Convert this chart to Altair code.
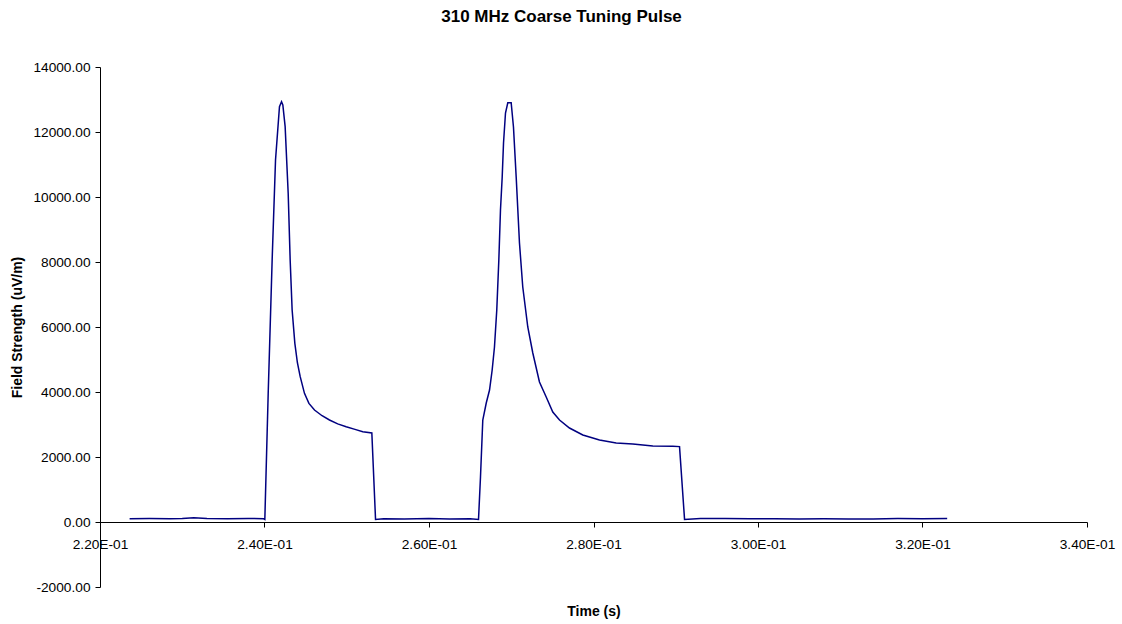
import altair as alt
import pandas as pd

# Time (s) values
time_s = [
    0.2236, 0.2260, 0.2285, 0.2300, 0.2314, 0.2330, 0.2355, 0.2380, 0.2399,
    0.24004, 0.24045, 0.24093, 0.24134, 0.24182, 0.24207, 0.24223,
    0.24251, 0.24288, 0.24312, 0.24336, 0.24369, 0.24400, 0.24434, 0.24486,
    0.24540, 0.24608, 0.24700, 0.24790, 0.24890, 0.24993, 0.25100, 0.25195,
    0.25305, 0.25350,
    0.2545, 0.2570, 0.2600, 0.2625, 0.2650, 0.26602,
    0.26626, 0.26654, 0.26696, 0.26736, 0.26768, 0.26796, 0.26824, 0.26849,
    0.26869, 0.26890, 0.26906, 0.26930, 0.26958, 0.26999, 0.27027, 0.27060,
    0.27100, 0.27140, 0.27201, 0.27262, 0.27343, 0.27425, 0.27505, 0.27587,
    0.27708, 0.27870, 0.28073, 0.28276, 0.28478, 0.28721, 0.28964, 0.29046,
    0.29107,
    0.2930, 0.2960, 0.2990, 0.3020, 0.3050, 0.3080, 0.3110, 0.3140, 0.3170,
    0.3200, 0.3230,
]

# Field strength (uV/m) values
field_uv = [
    100, 105, 100, 110, 130, 105, 100, 110, 100,
    80, 3959, 8062, 11138, 12779, 12930, 12831,
    12164, 10113, 8062, 6523, 5498, 4900, 4471, 3959,
    3650, 3446, 3270, 3138, 3020, 2933, 2850, 2779,
    2740, 80,
    100, 95, 105, 95, 100, 80,
    1385, 3138, 3662, 4062, 4677, 5385, 6523, 8062,
    9600, 10615, 11662, 12585, 12900, 12900, 12154, 10615,
    8585, 7231, 6000, 5200, 4308, 3846, 3385, 3138,
    2892, 2677, 2523, 2431, 2400, 2338, 2330, 2320,
    80,
    110, 105, 100, 100, 95, 100, 90, 95, 105,
    100, 110,
]

x_ticks = [0.22, 0.24, 0.26, 0.28, 0.30, 0.32, 0.34]
y_ticks = [-2000, 0, 2000, 4000, 6000, 8000, 10000, 12000, 14000]

df = pd.DataFrame({"t": time_s, "v": field_uv, "order": list(range(len(time_s)))})

FONT = "Liberation Sans"
LABEL_SIZE = 13.7
TITLE_SIZE = 14

chart = (
    alt.Chart(df)
    .mark_line(color="#000080", strokeWidth=1.5)
    .encode(
        x=alt.X(
            "t:Q",
            scale=alt.Scale(domain=[0.22, 0.34], nice=False, zero=False),
            axis=alt.Axis(
                values=x_ticks,
                labelExpr="format(datum.value*10, '.2f') + 'E-01'",
                title="Time (s)",
                offset=-65,
                grid=False,
                tickSize=5,
                tickColor="black",
                domainColor="black",
                labelFont=FONT,
                labelFontSize=LABEL_SIZE,
                labelColor="black",
                labelPadding=10,
                labelFlush=False,
                labelOverlap=False,
                titleFont=FONT,
                titleFontSize=TITLE_SIZE,
                titleFontWeight="bold",
                titleColor="black",
                titlePadding=54,
            ),
        ),
        y=alt.Y(
            "v:Q",
            scale=alt.Scale(domain=[-2000, 14000], nice=False, zero=False),
            axis=alt.Axis(
                values=y_ticks,
                labelExpr="(datum.value < 0 ? '-' : '') + format(abs(datum.value), '.2f')",
                title="Field Strength (uV/m)",
                grid=False,
                tickSize=5,
                tickColor="black",
                domainColor="black",
                labelFont=FONT,
                labelFontSize=LABEL_SIZE,
                labelColor="black",
                labelPadding=5,
                labelOverlap=False,
                titleFont=FONT,
                titleFontSize=TITLE_SIZE,
                titleFontWeight="bold",
                titleColor="black",
                titlePadding=8,
            ),
        ),
        order="order:Q",
    )
    .properties(
        width=987,
        height=520,
        background="white",
        title=alt.TitleParams(
            "310 MHz Coarse Tuning Pulse",
            font=FONT,
            fontSize=17,
            fontWeight="bold",
            color="black",
            anchor="middle",
            dx=-32,
            offset=34,
        ),
        autosize=alt.AutoSizeParams(type="none"),
        padding={"left": 100, "top": 67, "right": 35, "bottom": 37},
    )
    .configure_view(stroke="transparent", strokeWidth=0)
)

chart.save("out.html", embed_options={"renderer": "svg", "actions": False})
